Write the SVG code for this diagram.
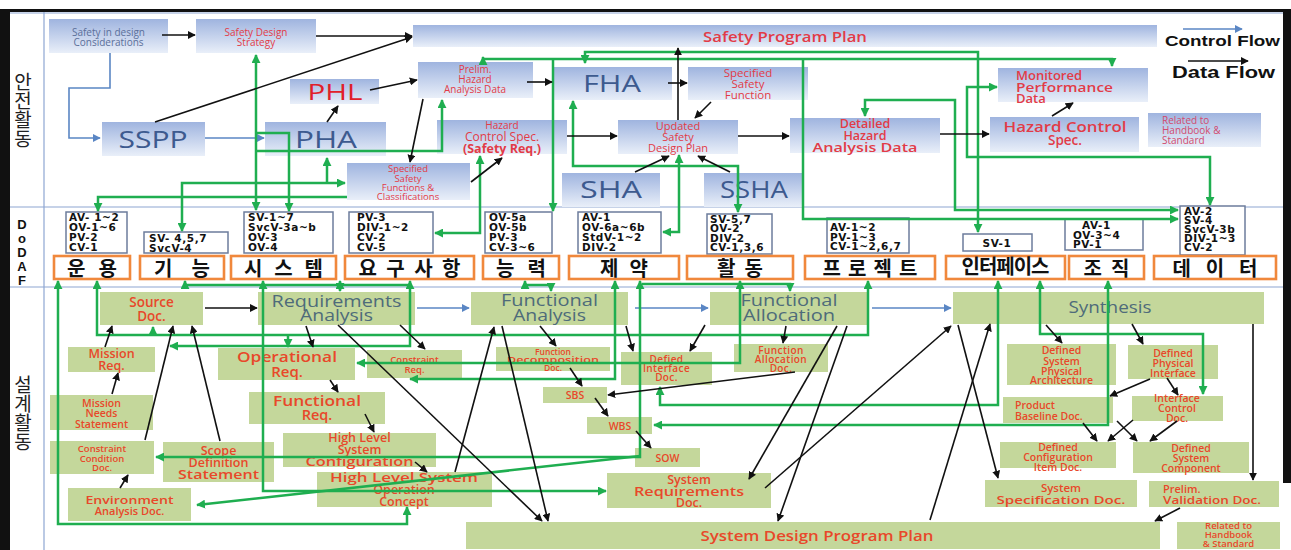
<svg xmlns="http://www.w3.org/2000/svg" width="1291" height="550" viewBox="0 0 1291 550">
<defs>
<linearGradient id="gblue" x1="0" y1="0" x2="0" y2="1"><stop offset="0" stop-color="#9fb4df"/><stop offset="1" stop-color="#e9eff9"/></linearGradient>
<marker id="ak" viewBox="0 0 10 10" refX="9" refY="5" markerWidth="8" markerHeight="8" markerUnits="userSpaceOnUse" orient="auto-start-reverse"><path d="M0,0 L10,5 L0,10 z" fill="#111"/></marker>
<marker id="ab" viewBox="0 0 10 10" refX="9" refY="5" markerWidth="8" markerHeight="8" markerUnits="userSpaceOnUse" orient="auto-start-reverse"><path d="M0,0 L10,5 L0,10 z" fill="#5a86c4"/></marker>
<marker id="ag" viewBox="0 0 10 10" refX="9" refY="5" markerWidth="9" markerHeight="9" markerUnits="userSpaceOnUse" orient="auto-start-reverse"><path d="M0,0 L10,5 L0,10 z" fill="#1fae50"/></marker>
<style>
.tb{fill:url(#gblue)}
.gb{fill:#c4d79b}
.vb{fill:#fff;stroke:#6c7c9c;stroke-width:1.5}
.ob{fill:#fff;stroke:#f0883c;stroke-width:2.6}
.t{font-family:"Open Sans","Liberation Sans",sans-serif;text-anchor:middle}
.l{text-anchor:start}
.r{fill:#e23b47}
.o{fill:#e8482a;font-weight:600}
.gy{fill:#4e6b7a}
.bl{fill:#3d5a8f}
.v{font-family:"DejaVu Sans","Liberation Sans",sans-serif;font-weight:bold;font-size:10.5px;fill:#111;letter-spacing:0.6px}
.k{font-family:"Noto Sans CJK KR",sans-serif;font-weight:bold;text-anchor:middle;fill:#111;font-size:20px}
.side{font-family:"Noto Sans CJK KR",sans-serif;fill:#222;font-size:19px;text-anchor:middle}
.g{fill:none;stroke:#1fae50;stroke-width:2.5}
.d{fill:none;stroke:#111;stroke-width:1.6}
.c{fill:none;stroke:#5a86c4;stroke-width:1.6}
.frame{fill:none;stroke:#8ea6d2;stroke-width:1.2}
</style>
</defs>
<rect x="0" y="0" width="1291" height="550" fill="#fff"/>
<g id="frame">
<line class="frame" x1="10" y1="13" x2="1283" y2="13"/>
<line class="frame" x1="44" y1="12" x2="44" y2="550"/>
<line class="frame" x1="10" y1="207" x2="1283" y2="207"/>
<line class="frame" x1="10" y1="287" x2="1283" y2="287"/>
<rect x="0" y="9" width="1291" height="3" fill="#111"/>
<rect x="0" y="9" width="10" height="541" fill="#111"/>
<rect x="1283" y="9" width="8" height="474" fill="#111"/>
<text class="side" x="23" y="89">안</text>
<text class="side" x="23" y="108">전</text>
<text class="side" x="23" y="127">활</text>
<text class="side" x="23" y="146">동</text>
<g font-family="Liberation Sans,sans-serif" font-weight="bold" font-size="13" text-anchor="middle" fill="#111">
<text x="22" y="229">D</text><text x="22" y="243">o</text><text x="22" y="257">D</text><text x="22" y="271">A</text><text x="22" y="285">F</text>
</g>
<text class="side" x="23" y="392">설</text>
<text class="side" x="23" y="411">계</text>
<text class="side" x="23" y="430">활</text>
<text class="side" x="23" y="449">동</text>
</g>
<g id="legend">
<path class="c" d="M1183,29 H1242" marker-end="url(#ab)"/>
<text x="1165" y="46" font-family="Liberation Sans,sans-serif" font-weight="bold" font-size="15" fill="#111" textLength="115" lengthAdjust="spacingAndGlyphs">Control Flow</text>
<path class="d" d="M1188,61 H1248" marker-end="url(#ak)"/>
<text x="1172" y="77.5" font-family="Liberation Sans,sans-serif" font-weight="bold" font-size="16" fill="#111" textLength="103" lengthAdjust="spacingAndGlyphs">Data Flow</text>
</g>
<!-- top safety nodes -->
<g id="n-sidc"><rect class="tb" x="49" y="19" width="119" height="34"/><text class="t" font-size="10" fill="#5b6f9a"><tspan x="108.5" y="36">Safety in design</tspan><tspan x="108.5" y="46">Considerations</tspan></text></g>
<g id="n-sds"><rect class="tb" x="196" y="19" width="120" height="34"/><text class="t r" font-size="10"><tspan x="256" y="36">Safety Design</tspan><tspan x="256" y="46">Strategy</tspan></text></g>
<g id="n-spp"><rect class="tb" x="413" y="25" width="744" height="22"/><text class="t r" x="785" y="42" font-size="14" font-weight="600" textLength="164" lengthAdjust="spacingAndGlyphs">Safety Program Plan</text></g>
<g id="n-phl"><rect class="tb" x="290" y="79" width="89" height="25"/><text class="t" x="335" y="100" font-size="22" fill="#e0202a" textLength="55" lengthAdjust="spacingAndGlyphs">PHL</text></g>
<g id="n-sspp"><rect class="tb" x="102" y="122" width="103" height="34"/><text class="t bl" x="153" y="148" font-size="24" textLength="69" lengthAdjust="spacingAndGlyphs">SSPP</text></g>
<g id="n-pha"><rect class="tb" x="265" y="122" width="121" height="34"/><text class="t bl" x="326" y="148" font-size="24" textLength="62" lengthAdjust="spacingAndGlyphs">PHA</text></g>
<g id="n-prelim"><rect class="tb" x="418" y="62" width="115" height="36"/><text class="t r" font-size="10"><tspan x="475" y="73">Prelim.</tspan><tspan x="475" y="83">Hazard</tspan><tspan x="475" y="93">Analysis Data</tspan></text></g>
<g id="n-ssfc"><rect class="tb" x="347" y="163" width="123" height="37"/><text class="t r" font-size="9.5"><tspan x="408" y="172">Specified</tspan><tspan x="408" y="181.5">Safety</tspan><tspan x="408" y="190.5">Functions &amp;</tspan><tspan x="408" y="199.5">Classifications</tspan></text></g>
<g id="n-hcs"><rect class="tb" x="437" y="120" width="130" height="34"/><text class="t r"><tspan x="502" y="129" font-size="10">Hazard</tspan><tspan x="502" y="141" font-size="12">Control Spec.</tspan><tspan x="502" y="152.5" font-size="12.5" font-weight="bold">(Safety Req.)</tspan></text></g>
<g id="n-fha"><rect class="tb" x="553" y="67" width="119" height="33"/><text class="t bl" x="612" y="92" font-size="24" textLength="58" lengthAdjust="spacingAndGlyphs">FHA</text></g>
<g id="n-ssf"><rect class="tb" x="688" y="67" width="120" height="33"/><text class="t r" font-size="11.5"><tspan x="748" y="77">Specified</tspan><tspan x="748" y="88">Safety</tspan><tspan x="748" y="99">Function</tspan></text></g>
<g id="n-usdp"><rect class="tb" x="618" y="120" width="120" height="34"/><text class="t r" font-size="11"><tspan x="678" y="130">Updated</tspan><tspan x="678" y="141">Safety</tspan><tspan x="678" y="152">Design Plan</tspan></text></g>
<g id="n-dhad"><rect class="tb" x="790" y="118" width="150" height="35"/><text class="t r" font-size="12.5" font-weight="600"><tspan x="865" y="128">Detailed</tspan><tspan x="865" y="140">Hazard</tspan><tspan x="865" y="152" textLength="105" lengthAdjust="spacingAndGlyphs">Analysis Data</tspan></text></g>
<g id="n-sha"><rect class="tb" x="562" y="173" width="98" height="34"/><text class="t bl" x="611" y="198" font-size="24" textLength="62" lengthAdjust="spacingAndGlyphs">SHA</text></g>
<g id="n-ssha"><rect class="tb" x="704" y="173" width="99" height="34"/><text class="t bl" x="754" y="198" font-size="24" textLength="68" lengthAdjust="spacingAndGlyphs">SSHA</text></g>
<g id="n-mpd"><rect class="tb" x="998" y="68" width="150" height="34"/><text class="t r l" font-size="13" font-weight="600"><tspan x="1016" y="80">Monitored</tspan><tspan x="1016" y="92" textLength="97" lengthAdjust="spacingAndGlyphs">Performance</tspan><tspan x="1016" y="103">Data</tspan></text></g>
<g id="n-hcs2"><rect class="tb" x="990" y="117" width="149" height="35"/><text class="t r" font-size="13.5" font-weight="600"><tspan x="1065" y="132" textLength="123" lengthAdjust="spacingAndGlyphs">Hazard Control</tspan><tspan x="1065" y="145">Spec.</tspan></text></g>
<g id="n-rhs"><rect class="tb" x="1148" y="113" width="113" height="34"/><text class="t l" font-size="10" fill="#d24a6e"><tspan x="1162" y="124">Related to</tspan><tspan x="1162" y="134">Handbook &amp;</tspan><tspan x="1162" y="144">Standard</tspan></text></g>
<!-- DoDAF -->
<g id="v-1"><rect class="vb" x="66" y="212" width="61" height="41"/><text class="v"><tspan x="69" y="221">AV- 1~2</tspan><tspan x="69" y="231">OV-1~6</tspan><tspan x="69" y="241">PV-2</tspan><tspan x="69" y="251">CV-1</tspan></text></g>
<g id="v-2"><rect class="vb" x="144" y="232" width="84" height="21"/><text class="v"><tspan x="149" y="241.5">SV- 4,5,7</tspan><tspan x="149" y="251.5">SvcV-4</tspan></text></g>
<g id="v-3"><rect class="vb" x="244" y="212" width="89" height="41"/><text class="v"><tspan x="248" y="221">SV-1~7</tspan><tspan x="248" y="231">SvcV-3a~b</tspan><tspan x="248" y="241">OV-3</tspan><tspan x="248" y="251">OV-4</tspan></text></g>
<g id="v-4"><rect class="vb" x="349" y="212" width="84" height="41"/><text class="v"><tspan x="357" y="221">PV-3</tspan><tspan x="357" y="231">DIV-1~2</tspan><tspan x="357" y="241">CV-2</tspan><tspan x="357" y="251">CV-5</tspan></text></g>
<g id="v-5"><rect class="vb" x="485" y="212" width="67" height="41"/><text class="v"><tspan x="489" y="221">OV-5a</tspan><tspan x="489" y="231">OV-5b</tspan><tspan x="489" y="241">PV-3</tspan><tspan x="489" y="251">CV-3~6</tspan></text></g>
<g id="v-6"><rect class="vb" x="578" y="212" width="83" height="41"/><text class="v"><tspan x="582" y="221">AV-1</tspan><tspan x="582" y="231">OV-6a~6b</tspan><tspan x="582" y="241">StdV-1~2</tspan><tspan x="582" y="251">DIV-2</tspan></text></g>
<g id="v-7"><rect class="vb" x="707" y="214" width="65" height="40"/><text class="v"><tspan x="710" y="222.5">SV-5,7</tspan><tspan x="710" y="232">OV-2</tspan><tspan x="710" y="241.5">DIV-2</tspan><tspan x="710" y="251">CV-1,3,6</tspan></text></g>
<g id="v-8"><rect class="vb" x="827" y="218" width="82" height="35"/><text class="v"><tspan x="830" y="231">AV-1~2</tspan><tspan x="830" y="240.5">PV-1~3</tspan><tspan x="830" y="250">CV-1~2,6,7</tspan></text></g>
<g id="v-9"><rect class="vb" x="963" y="234" width="69" height="17"/><text class="v" x="997" y="246.5" text-anchor="middle">SV-1</text></g>
<g id="v-10"><rect class="vb" x="1065" y="219" width="78" height="31"/><text class="v"><tspan x="1082" y="229">AV-1</tspan><tspan x="1073" y="238.5">OV-3~4</tspan><tspan x="1073" y="247.5">PV-1</tspan></text></g>
<g id="v-11"><rect class="vb" x="1180" y="206" width="65" height="49"/><text class="v"><tspan x="1184" y="214.5">AV-2</tspan><tspan x="1184" y="223.5">SV-4</tspan><tspan x="1184" y="232.5">SvcV-3b</tspan><tspan x="1184" y="241.5">DIV-1~3</tspan><tspan x="1184" y="250.5">CV-2</tspan></text></g>
<g id="o-1"><rect class="ob" x="54" y="256" width="76" height="23"/><text class="k" x="92" y="275.5" textLength="50" lengthAdjust="spacing">운용</text></g>
<g id="o-2"><rect class="ob" x="140" y="256" width="84" height="23"/><text class="k" x="182" y="275.5" textLength="56" lengthAdjust="spacing">기능</text></g>
<g id="o-3"><rect class="ob" x="231" y="256" width="105" height="23"/><text class="k" x="283.5" y="275.5" textLength="79" lengthAdjust="spacing">시스템</text></g>
<g id="o-4"><rect class="ob" x="345" y="256" width="129" height="23"/><text class="k" x="409.5" y="275.5" textLength="102" lengthAdjust="spacing">요구사항</text></g>
<g id="o-5"><rect class="ob" x="483" y="256" width="76" height="23"/><text class="k" x="521" y="275.5" textLength="50" lengthAdjust="spacing">능력</text></g>
<g id="o-6"><rect class="ob" x="569" y="256" width="110" height="23"/><text class="k" x="624" y="275.5" textLength="48" lengthAdjust="spacing">제약</text></g>
<g id="o-7"><rect class="ob" x="687" y="256" width="106" height="23"/><text class="k" x="740" y="275.5" textLength="46" lengthAdjust="spacing">활동</text></g>
<g id="o-8"><rect class="ob" x="805" y="256" width="130" height="23"/><text class="k" x="870" y="275.5" textLength="95" lengthAdjust="spacing">프로젝트</text></g>
<g id="o-9"><rect class="ob" x="946" y="256" width="119" height="23"/><text class="k" x="1005.5" y="273.5" font-size="15" textLength="88" lengthAdjust="spacing">인터페이스</text></g>
<g id="o-10"><rect class="ob" x="1069" y="256" width="75" height="23"/><text class="k" x="1106.5" y="275.5" textLength="46" lengthAdjust="spacing">조직</text></g>
<g id="o-11"><rect class="ob" x="1154" y="256" width="122" height="23"/><text class="k" x="1215" y="275.5" textLength="85" lengthAdjust="spacing">데이터</text></g>
<!-- design nodes -->
<g id="b-src"><rect class="gb" x="100" y="292" width="103" height="33"/><text class="t o" font-size="13.5"><tspan x="151.5" y="307">Source</tspan><tspan x="151.5" y="321">Doc.</tspan></text></g>
<g id="b-ra"><rect class="gb" x="258" y="292" width="157" height="33"/><text class="t gy" font-size="16"><tspan x="336.5" y="307" textLength="130" lengthAdjust="spacingAndGlyphs">Requirements</tspan><tspan x="336.5" y="321" textLength="73" lengthAdjust="spacingAndGlyphs">Analysis</tspan></text></g>
<g id="b-fa"><rect class="gb" x="471" y="292" width="157" height="33"/><text class="t gy" font-size="16"><tspan x="549.5" y="306" textLength="97" lengthAdjust="spacingAndGlyphs">Functional</tspan><tspan x="549.5" y="321" textLength="73" lengthAdjust="spacingAndGlyphs">Analysis</tspan></text></g>
<g id="b-fal"><rect class="gb" x="710" y="292" width="158" height="33"/><text class="t gy" font-size="16"><tspan x="789" y="306" textLength="97" lengthAdjust="spacingAndGlyphs">Functional</tspan><tspan x="789" y="321" textLength="92" lengthAdjust="spacingAndGlyphs">Allocation</tspan></text></g>
<g id="b-syn"><rect class="gb" x="953" y="292" width="311" height="32"/><text class="t gy" x="1110" y="313" font-size="16" textLength="83" lengthAdjust="spacingAndGlyphs">Synthesis</text></g>
<g id="b-mr"><rect class="gb" x="68" y="347" width="87" height="25"/><text class="t o" font-size="12.5"><tspan x="111.5" y="358">Mission</tspan><tspan x="111.5" y="370">Req.</tspan></text></g>
<g id="b-opr"><rect class="gb" x="218" y="348" width="137" height="32"/><text class="t o" font-size="15"><tspan x="287" y="362" textLength="100" lengthAdjust="spacingAndGlyphs">Operational</tspan><tspan x="287" y="377">Req.</tspan></text></g>
<g id="b-cr"><rect class="gb" x="367" y="350" width="95" height="28"/><text class="t o" font-size="9.5" font-weight="400"><tspan x="414.5" y="362.5">Constraint</tspan><tspan x="414.5" y="373">Req.</tspan></text></g>
<g id="b-mns"><rect class="gb" x="50" y="395" width="103" height="35"/><text class="t o" font-size="10.5"><tspan x="101.5" y="406.5">Mission</tspan><tspan x="101.5" y="417">Needs</tspan><tspan x="101.5" y="428">Statement</tspan></text></g>
<g id="b-fr"><rect class="gb" x="249" y="392" width="136" height="32"/><text class="t o" font-size="14.5"><tspan x="317" y="406" textLength="88" lengthAdjust="spacingAndGlyphs">Functional</tspan><tspan x="317" y="420">Req.</tspan></text></g>
<g id="b-ccd"><rect class="gb" x="50" y="441" width="104" height="33"/><text class="t o" font-size="9.5" font-weight="400"><tspan x="102" y="452">Constraint</tspan><tspan x="102" y="462">Condition</tspan><tspan x="102" y="471">Doc.</tspan></text></g>
<g id="b-sds"><rect class="gb" x="163" y="442" width="111" height="40"/><text class="t o" font-size="12.5" font-weight="bold"><tspan x="218.5" y="455">Scope</tspan><tspan x="218.5" y="467">Definition</tspan><tspan x="218.5" y="479" textLength="81" lengthAdjust="spacingAndGlyphs">Statement</tspan></text></g>
<g id="b-hlsc"><rect class="gb" x="283" y="433" width="153" height="34"/><text class="t o" font-size="12.5"><tspan x="359.5" y="442">High Level</tspan><tspan x="359.5" y="454">System</tspan><tspan x="359.5" y="466" textLength="108" lengthAdjust="spacingAndGlyphs">Configuration</tspan></text></g>
<g id="b-hlsoc"><rect class="gb" x="317" y="472" width="175" height="35"/><text class="t o" font-size="12.5"><tspan x="404" y="482" textLength="148" lengthAdjust="spacingAndGlyphs">High Level System</tspan><tspan x="404" y="494">Operation</tspan><tspan x="404" y="506">Concept</tspan></text></g>
<g id="b-ead"><rect class="gb" x="68" y="488" width="123" height="33"/><text class="t o" font-size="11"><tspan x="129.5" y="503.5" textLength="88" lengthAdjust="spacingAndGlyphs">Environment</tspan><tspan x="129.5" y="514.5">Analysis Doc.</tspan></text></g>
<g id="b-fdd"><rect class="gb" x="496" y="347" width="114" height="24"/><text class="t o" font-size="8.5" font-weight="400"><tspan x="553" y="354.5">Function</tspan><tspan x="553" y="362.5" textLength="92" lengthAdjust="spacingAndGlyphs">Decomposition</tspan><tspan x="553" y="370.5">Doc.</tspan></text></g>
<g id="b-did"><rect class="gb" x="621" y="352" width="91" height="33"/><text class="t o" font-size="10" letter-spacing="0.4"><tspan x="666.5" y="363">Defied</tspan><tspan x="666.5" y="372">Interface</tspan><tspan x="666.5" y="381">Doc.</tspan></text></g>
<g id="b-fadoc"><rect class="gb" x="734" y="344" width="94" height="28"/><text class="t o" font-size="10" letter-spacing="0.4"><tspan x="781" y="353.5">Function</tspan><tspan x="781" y="362.5">Allocation</tspan><tspan x="781" y="371.5">Doc.</tspan></text></g>
<g id="b-sbs"><rect class="gb" x="543" y="387" width="64" height="16"/><text class="t o" x="575" y="399" font-size="10.5">SBS</text></g>
<g id="b-wbs"><rect class="gb" x="587" y="417" width="65" height="17"/><text class="t o" x="620" y="429.5" font-size="10.5">WBS</text></g>
<g id="b-sow"><rect class="gb" x="635" y="448" width="65" height="19"/><text class="t o" x="667.5" y="461.5" font-size="10.5">SOW</text></g>
<g id="b-srd"><rect class="gb" x="607" y="473" width="164" height="35"/><text class="t o" font-size="12.5"><tspan x="689" y="484">System</tspan><tspan x="689" y="495.5" textLength="110" lengthAdjust="spacingAndGlyphs">Requirements</tspan><tspan x="689" y="507">Doc.</tspan></text></g>
<g id="b-sdpp"><rect class="gb" x="466" y="522" width="694" height="27"/><text class="t o" x="817" y="541" font-size="14" font-weight="bold" textLength="233" lengthAdjust="spacingAndGlyphs">System Design Program Plan</text></g>
<g id="b-dspa"><rect class="gb" x="1007" y="344" width="109" height="41"/><text class="t o" font-size="10.5"><tspan x="1061.5" y="354">Defined</tspan><tspan x="1061.5" y="364.5">System</tspan><tspan x="1061.5" y="374.5">Physical</tspan><tspan x="1061.5" y="384">Architecture</tspan></text></g>
<g id="b-dpi"><rect class="gb" x="1128" y="345" width="90" height="34"/><text class="t o" font-size="10.5"><tspan x="1173" y="357">Defined</tspan><tspan x="1173" y="367">Physical</tspan><tspan x="1173" y="377">Interface</tspan></text></g>
<g id="b-pbd"><rect class="gb" x="1003" y="397" width="110" height="26"/><text class="t o l" font-size="10.5"><tspan x="1015" y="409">Product</tspan><tspan x="1015" y="419.5">Baseline Doc.</tspan></text></g>
<g id="b-icd"><rect class="gb" x="1132" y="396" width="91" height="25"/><text class="t o" font-size="10.5"><tspan x="1177" y="402">Interface</tspan><tspan x="1177" y="412">Control</tspan><tspan x="1177" y="422">Doc.</tspan></text></g>
<g id="b-dcid"><rect class="gb" x="1000" y="442" width="116" height="26"/><text class="t o" font-size="10.5"><tspan x="1058" y="451">Defined</tspan><tspan x="1058" y="461">Configuration</tspan><tspan x="1058" y="471">Item Doc.</tspan></text></g>
<g id="b-dsc"><rect class="gb" x="1133" y="442" width="116" height="31"/><text class="t o" font-size="10.5"><tspan x="1191" y="452">Defined</tspan><tspan x="1191" y="462">System</tspan><tspan x="1191" y="472">Component</tspan></text></g>
<g id="b-ssd"><rect class="gb" x="985" y="480" width="152" height="27"/><text class="t o" font-size="11.5"><tspan x="1061" y="492">System</tspan><tspan x="1061" y="504" textLength="129" lengthAdjust="spacingAndGlyphs">Specification Doc.</tspan></text></g>
<g id="b-pvd"><rect class="gb" x="1149" y="481" width="130" height="26"/><text class="t o l" font-size="11"><tspan x="1163" y="493">Prelim.</tspan><tspan x="1163" y="504" textLength="98" lengthAdjust="spacingAndGlyphs">Validation Doc.</tspan></text></g>
<g id="b-rhs"><rect class="gb" x="1177" y="522" width="103" height="27"/><text class="t o" font-size="9.5" font-weight="400"><tspan x="1228.5" y="528.5">Related to</tspan><tspan x="1228.5" y="537.5">Handbook</tspan><tspan x="1228.5" y="546.5">&amp; Standard</tspan></text></g>
<!-- connectors -->
<g id="connectors">
<g id="control-flow">
<path class="c" d="M110,53 V88 H69 V138 H100" marker-end="url(#ab)"/>
<path class="c" d="M205,138 H264" marker-end="url(#ab)"/>
<path class="c" d="M417,308 H469" marker-end="url(#ab)"/>
<path class="c" d="M635,308 H708" marker-end="url(#ab)"/>
<path class="c" d="M872,308 H951" marker-end="url(#ab)"/>
</g>
<g id="green-links">
<path class="g" d="M256,55 V210" marker-start="url(#ag)" marker-end="url(#ag)"/>
<path class="g" d="M256,133 H289 V211" marker-end="url(#ag)"/>
<path class="g" d="M256,151 H442 V100" marker-end="url(#ag)"/>
<path class="g" d="M182,231 V183 H345" marker-start="url(#ag)" marker-end="url(#ag)"/>
<path class="g" d="M327,183 V158" marker-end="url(#ag)"/>
<path class="g" d="M98,211 V197 H347" marker-start="url(#ag)"/>
<path class="g" d="M480,156 V233 H435" marker-start="url(#ag)" marker-end="url(#ag)"/>
<path class="g" d="M483,59 H1112 V66" marker-end="url(#ag)"/>
<path class="g" d="M483,64 V57" marker-end="url(#ag)"/>
<path class="g" d="M553,59 V211" marker-end="url(#ag)"/>
<path class="g" d="M803,59 V219 H1178" marker-end="url(#ag)"/>
<path class="g" d="M585,63 V52 H978 V232" marker-start="url(#ag)" marker-end="url(#ag)"/>
<path class="g" d="M573,101 V166 H738 V212" marker-start="url(#ag)" marker-end="url(#ag)"/>
<path class="g" d="M679,155 V232 H663" marker-start="url(#ag)" marker-end="url(#ag)"/>
<path class="g" d="M865,116 V100 H955 V210 H1178" marker-start="url(#ag)" marker-end="url(#ag)"/>
<path class="g" d="M997,87 H967 V157 H1210 V205" marker-start="url(#ag)" marker-end="url(#ag)"/>
<path class="g" d="M58,281 V524 H407 V507" marker-start="url(#ag)" marker-end="url(#ag)"/>
<path class="g" d="M97,281 V335 H868 V281" marker-start="url(#ag)" marker-end="url(#ag)"/>
<path class="g" d="M153,335 V327" marker-end="url(#ag)"/>
<path class="g" d="M288,335 V347" marker-end="url(#ag)"/>
<path class="g" d="M263,281 V491 H606" marker-start="url(#ag)" marker-end="url(#ag)"/>
<path class="g" d="M410,281 V346 H170" marker-start="url(#ag)" marker-end="url(#ag)"/>
<path class="g" d="M640,281 V457 H156" marker-start="url(#ag)" marker-end="url(#ag)"/>
<path class="g" d="M640,456 L197,505" marker-end="url(#ag)"/>
<path class="g" d="M615,281 V379 H410" marker-start="url(#ag)" marker-end="url(#ag)"/>
<path class="g" d="M740,281 V363 H357" marker-start="url(#ag)" marker-end="url(#ag)"/>
<path class="g" d="M998,281 V405 H660 V387" marker-start="url(#ag)" marker-end="url(#ag)"/>
<path class="g" d="M1108,281 V425 H654" marker-start="url(#ag)" marker-end="url(#ag)"/>
<path class="g" d="M1040,281 V334 H1203 V394" marker-start="url(#ag)" marker-end="url(#ag)"/>
<path class="g" d="M185,281 V285 H410" marker-start="url(#ag)"/>
<path class="g" d="M340,281 V291" marker-start="url(#ag)" marker-end="url(#ag)"/>
<path class="g" d="M525,281 V285 H551 V291" marker-start="url(#ag)" marker-end="url(#ag)"/>
<path class="g" d="M642,284 H790 V291" marker-end="url(#ag)"/>
</g>
<g id="data-flow">
<path class="d" d="M162,35 H195" marker-end="url(#ak)"/>
<path class="d" d="M316,36 H412" marker-end="url(#ak)"/>
<path class="d" d="M155,122 L412,37" marker-end="url(#ak)"/>
<path class="d" d="M370,90 L417,80" marker-end="url(#ak)"/>
<path class="d" d="M327,122 L338,106" marker-end="url(#ak)"/>
<path class="d" d="M423,99 L410,162" marker-end="url(#ak)"/>
<path class="d" d="M527,82 H552" marker-end="url(#ak)"/>
<path class="d" d="M471,182 L502,158" marker-end="url(#ak)"/>
<path class="d" d="M567,136 H617" marker-end="url(#ak)"/>
<path class="d" d="M668,83 H687" marker-end="url(#ak)"/>
<path class="d" d="M711,102 L695,118" marker-end="url(#ak)"/>
<path class="d" d="M678,120 V48" marker-end="url(#ak)"/>
<path class="d" d="M738,136 H789" marker-end="url(#ak)"/>
<path class="d" d="M635,172 L669,156" marker-end="url(#ak)"/>
<path class="d" d="M730,172 L698,156" marker-end="url(#ak)"/>
<path class="d" d="M940,134 H989" marker-end="url(#ak)"/>
<path class="d" d="M1052,116 L1073,103" marker-end="url(#ak)"/>
<path class="d" d="M205,308 H257" marker-end="url(#ak)"/>
<path class="d" d="M105,347 L112,326" marker-end="url(#ak)"/>
<path class="d" d="M112,394 L118,373" marker-end="url(#ak)"/>
<path class="d" d="M145,440 L173,326" marker-end="url(#ak)"/>
<path class="d" d="M220,441 L192,326" marker-end="url(#ak)"/>
<path class="d" d="M120,488 L128,475" marker-end="url(#ak)"/>
<path class="d" d="M306,326 L313,347" marker-end="url(#ak)"/>
<path class="d" d="M400,325 L425,349" marker-end="url(#ak)"/>
<path class="d" d="M338,325 L542,521" marker-end="url(#ak)"/>
<path class="d" d="M330,380 L338,392" marker-end="url(#ak)"/>
<path class="d" d="M365,414 L374,432" marker-end="url(#ak)"/>
<path class="d" d="M415,462 L427,472" marker-end="url(#ak)"/>
<path class="d" d="M455,472 L494,327" marker-end="url(#ak)"/>
<path class="d" d="M540,326 L556,346" marker-end="url(#ak)"/>
<path class="d" d="M626,326 L633,351" marker-end="url(#ak)"/>
<path class="d" d="M705,325 L690,351" marker-end="url(#ak)"/>
<path class="d" d="M786,326 L783,343" marker-end="url(#ak)"/>
<path class="d" d="M570,368 L582,386" marker-end="url(#ak)"/>
<path class="d" d="M795,372 L608,395" marker-end="url(#ak)"/>
<path class="d" d="M595,398 L608,416" marker-end="url(#ak)"/>
<path class="d" d="M636,431 L651,448" marker-end="url(#ak)"/>
<path class="d" d="M502,326 L548,521" marker-end="url(#ak)"/>
<path class="d" d="M837,326 L749,479" marker-end="url(#ak)"/>
<path class="d" d="M847,326 L778,521" marker-end="url(#ak)"/>
<path class="d" d="M765,488 L951,326" marker-end="url(#ak)"/>
<path class="d" d="M930,520 L990,324" marker-end="url(#ak)"/>
<path class="d" d="M958,325 L998,478" marker-end="url(#ak)"/>
<path class="d" d="M1046,325 L1062,343" marker-end="url(#ak)"/>
<path class="d" d="M1132,324 L1143,344" marker-end="url(#ak)"/>
<path class="d" d="M1253,324 V480" marker-end="url(#ak)"/>
<path class="d" d="M1150,379 L1110,396" marker-end="url(#ak)"/>
<path class="d" d="M1167,378 L1178,395" marker-end="url(#ak)"/>
<path class="d" d="M1083,423 L1097,441" marker-end="url(#ak)"/>
<path class="d" d="M1117,421 L1137,441" marker-end="url(#ak)"/>
<path class="d" d="M1133,420 L1108,441" marker-end="url(#ak)"/>
<path class="d" d="M1177,421 L1150,441" marker-end="url(#ak)"/>
<path class="d" d="M1180,508 L1155,521" marker-end="url(#ak)"/>
</g>
</g>
</svg>
